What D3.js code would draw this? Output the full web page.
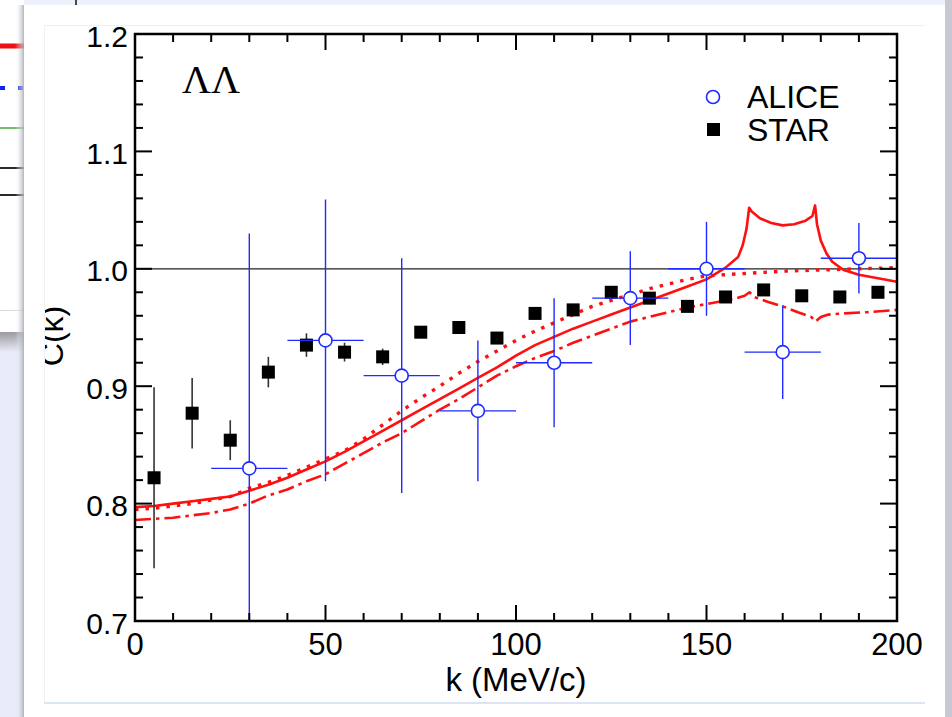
<!DOCTYPE html>
<html>
<head>
<meta charset="utf-8">
<script src="https://cdn.jsdelivr.net/npm/d3@7"></script>
<style>
    html, body { margin: 0; padding: 0; background: #eef0fa; }
    svg { display: block; font-family: "Liberation Sans", Arial, Helvetica, sans-serif; }
</style>
</head>
<body>
<svg id="chart" width="952" height="717"></svg>
<script>
// Données STAR (carrés noirs)
const starK = [5, 15, 25, 35, 45, 55, 65, 75, 85, 95, 105, 115, 125, 135, 145, 155, 165, 175, 185, 195];
const starC = [0.822, 0.877, 0.854, 0.912, 0.935, 0.929, 0.925, 0.946, 0.950, 0.941, 0.962, 0.965, 0.980, 0.975, 0.968, 0.976, 0.982, 0.977, 0.976, 0.980];
const starErr = [0.077, 0.030, 0.017, 0.013, 0.010, 0.008, 0.007, 0.005, 0.004, 0.004, 0.003, 0.003, 0.003, 0.003, 0.003, 0.003, 0.003, 0.003, 0.003, 0.003];

// Données ALICE (cercles bleus)
const aliceK = [30, 50, 70, 90, 110, 130, 150, 170, 190];
const aliceC = [0.830, 0.939, 0.909, 0.879, 0.920, 0.975, 1.000, 0.929, 1.009];
const aliceErr = [0.200, 0.120, 0.100, 0.060, 0.055, 0.040, 0.040, 0.040, 0.030];
const aliceKErr = 10;

// Courbes théoriques
const solidK = [0, 5, 10, 15, 20, 25, 30, 35, 40, 45, 50, 55, 60, 65, 70, 75, 80, 85, 90, 95, 100, 105, 110, 115, 120, 125, 130, 135, 140, 145, 150, 155, 158.3, 159.5, 160.5, 161.2, 161.8, 164, 167, 170, 173, 176, 177.8, 178.5, 179, 180, 181.5, 183, 186, 190, 195, 200];
const solidC = [0.797, 0.798, 0.800, 0.802, 0.804, 0.806, 0.811, 0.816, 0.822, 0.829, 0.836, 0.844, 0.853, 0.862, 0.871, 0.880, 0.889, 0.898, 0.907, 0.916, 0.926, 0.935, 0.942, 0.949, 0.955, 0.961, 0.967, 0.973, 0.979, 0.985, 0.991, 1.001, 1.010, 1.020, 1.034, 1.052, 1.049, 1.043, 1.039, 1.037, 1.038, 1.041, 1.045, 1.054, 1.038, 1.024, 1.013, 1.006, 0.999, 0.995, 0.992, 0.989];

const dottedK = [0, 5, 10, 15, 20, 25, 30, 35, 40, 45, 50, 55, 60, 65, 70, 75, 80, 85, 90, 95, 100, 105, 110, 115, 120, 125, 130, 135, 140, 145, 150, 155, 160, 165, 170, 180, 190, 200];
const dottedC = [0.795, 0.796, 0.798, 0.800, 0.803, 0.806, 0.813, 0.818, 0.824, 0.831, 0.838, 0.845, 0.855, 0.867, 0.879, 0.890, 0.900, 0.911, 0.921, 0.930, 0.939, 0.947, 0.954, 0.961, 0.968, 0.973, 0.978, 0.983, 0.987, 0.991, 0.994, 0.995, 0.996, 0.997, 0.998, 0.999, 1.000, 1.001];

const dashDotK = [0, 5, 10, 15, 20, 25, 30, 35, 40, 45, 50, 55, 60, 65, 70, 75, 80, 85, 90, 95, 100, 105, 110, 115, 120, 125, 130, 135, 140, 145, 150, 155, 158, 160, 161.3, 162.5, 166, 170, 174, 177.5, 178.6, 180, 182, 186, 192, 200];
const dashDotC = [0.786, 0.787, 0.788, 0.790, 0.792, 0.795, 0.800, 0.807, 0.812, 0.819, 0.825, 0.834, 0.843, 0.852, 0.860, 0.870, 0.880, 0.889, 0.899, 0.909, 0.917, 0.924, 0.930, 0.937, 0.943, 0.949, 0.955, 0.959, 0.963, 0.967, 0.970, 0.973, 0.975, 0.977, 0.980, 0.976, 0.972, 0.968, 0.963, 0.959, 0.955, 0.959, 0.961, 0.962, 0.963, 0.965];

// Axes
const xMajor = [0, 50, 100, 150, 200];
const yMajor = [0.7, 0.8, 0.9, 1.0, 1.1, 1.2];
const xLabel = "k (MeV/c)";
const yLabel = "C(k)";
const panelTitle = "ΛΛ";
const legendNames = ["ALICE", "STAR"];

const config = {
    plot: { left: 135, right: 897, top: 34, bottom: 621 },
    colors: {
        red: "#ff1010",
        blue: "#1f2bff",
        black: "#000000"
    }
};

const svg = d3.select("#chart");

drawBackground();
drawChart();

function drawBackground() {
    // fenêtre derrière, à gauche
    svg.append("rect").attr("x", 0).attr("y", 0).attr("width", 952).attr("height", 717).attr("fill", "#eef0fa");
    svg.append("rect").attr("x", 0).attr("y", 0).attr("width", 24).attr("height", 332).attr("fill", "#ffffff");
    svg.append("rect").attr("x", 0).attr("y", 332).attr("width", 24).attr("height", 385).attr("fill", "#e8ebf9");

    const defs = svg.append("defs");
    const band = defs.append("linearGradient").attr("id", "band").attr("x1", 0).attr("y1", 0).attr("x2", 0).attr("y2", 1);
    band.append("stop").attr("offset", 0).attr("stop-color", "#9a9a9e");
    band.append("stop").attr("offset", 1).attr("stop-color", "#e8ebf9");
    svg.append("rect").attr("x", 0).attr("y", 332).attr("width", 24).attr("height", 20).attr("fill", "url(#band)");
    svg.append("line").attr("x1", 0).attr("x2", 24).attr("y1", 310.5).attr("y2", 310.5).attr("stroke", "#dcdcdc");

    svg.append("line").attr("x1", 0).attr("x2", 24).attr("y1", 46).attr("y2", 46).attr("stroke", "#ee1111").attr("stroke-width", 5);
    svg.append("line").attr("x1", 0).attr("x2", 24).attr("y1", 88).attr("y2", 88).attr("stroke", "#1122ee").attr("stroke-width", 4).attr("stroke-dasharray", "5,13");
    svg.append("line").attr("x1", 0).attr("x2", 24).attr("y1", 128).attr("y2", 128).attr("stroke", "#229922").attr("stroke-width", 1.3);
    svg.append("line").attr("x1", 0).attr("x2", 24).attr("y1", 168).attr("y2", 168).attr("stroke", "#111").attr("stroke-width", 1.8);
    svg.append("line").attr("x1", 0).attr("x2", 24).attr("y1", 195).attr("y2", 195).attr("stroke", "#111").attr("stroke-width", 1.8);
    svg.append("line").attr("x1", 76).attr("x2", 76).attr("y1", 0).attr("y2", 5).attr("stroke", "#111").attr("stroke-width", 1.5);

    // ombre de la carte
    const shadow = defs.append("linearGradient").attr("id", "shadow");
    shadow.append("stop").attr("offset", 0).attr("stop-color", "#ffffff").attr("stop-opacity", 0);
    shadow.append("stop").attr("offset", 1).attr("stop-color", "#a8acb8").attr("stop-opacity", 0.9);
    svg.append("rect").attr("x", 15).attr("y", 5).attr("width", 9).attr("height", 712).attr("fill", "url(#shadow)");

    // carte blanche
    svg.append("rect").attr("x", 24).attr("y", 5).attr("width", 921).attr("height", 712).attr("fill", "#ffffff");
    svg.append("rect").attr("x", 945).attr("y", 0).attr("width", 7).attr("height", 717).attr("fill", "#c6c9d4");

    // cadre de l'image
    svg.append("line").attr("x1", 45).attr("x2", 925).attr("y1", 25.5).attr("y2", 25.5).attr("stroke", "#f0f0f0");
    svg.append("line").attr("x1", 44.5).attr("x2", 44.5).attr("y1", 25).attr("y2", 702).attr("stroke", "#f2f2f2");
    svg.append("line").attr("x1", 44).attr("x2", 925).attr("y1", 703).attr("y2", 703).attr("stroke", "#dde4f4").attr("stroke-width", 2);

    defs.append("clipPath").attr("id", "imgclip")
        .append("rect").attr("x", 45).attr("y", 26).attr("width", 880).attr("height", 676);
    defs.append("clipPath").attr("id", "plotclip")
        .append("rect").attr("x", config.plot.left).attr("y", config.plot.top)
        .attr("width", config.plot.right - config.plot.left).attr("height", config.plot.bottom - config.plot.top);
}

function drawChart() {
    const p = config.plot;
    const x = d3.scaleLinear().domain([0, 200]).range([p.left, p.right]);
    const y = d3.scaleLinear().domain([0.7, 1.2]).range([p.bottom, p.top]);

    const g = svg.append("g").attr("clip-path", "url(#imgclip)");
    const data = g.append("g").attr("clip-path", "url(#plotclip)");

    // ligne C = 1
    data.append("line")
        .attr("x1", x(0)).attr("x2", x(200))
        .attr("y1", y(1.0)).attr("y2", y(1.0))
        .attr("stroke", "#222").attr("stroke-width", 1.3);

    // courbes rouges
    const line = d3.line().x(d => x(d[0])).y(d => y(d[1]));
    const curves = [
        { k: solidK, c: solidC, dash: null, w: 2.6 },
        { k: dottedK, c: dottedC, dash: "3.5,7", w: 3.4 },
        { k: dashDotK, c: dashDotC, dash: "16,5,3.5,5", w: 2.6 }
    ];
    curves.forEach(cv => {
        data.append("path")
            .attr("d", line(cv.k.map((k, i) => [k, cv.c[i]])))
            .attr("fill", "none")
            .attr("stroke", config.colors.red)
            .attr("stroke-width", cv.w)
            .attr("stroke-dasharray", cv.dash)
            .attr("stroke-linejoin", "round");
    });

    // STAR
    const star = starK.map((k, i) => ({ k: k, c: starC[i], e: starErr[i] }));
    data.selectAll(".star-err").data(star).enter().append("line")
        .attr("x1", d => x(d.k)).attr("x2", d => x(d.k))
        .attr("y1", d => y(d.c - d.e)).attr("y2", d => y(d.c + d.e))
        .attr("stroke", "#333").attr("stroke-width", 1.6);
    data.selectAll(".star-pt").data(star).enter().append("rect")
        .attr("x", d => x(d.k) - 6.5).attr("y", d => y(d.c) - 6.5)
        .attr("width", 13).attr("height", 13)
        .attr("fill", config.colors.black);

    // ALICE
    const alice = aliceK.map((k, i) => ({ k: k, c: aliceC[i], e: aliceErr[i] }));
    data.selectAll(".alice-ey").data(alice).enter().append("line")
        .attr("x1", d => x(d.k)).attr("x2", d => x(d.k))
        .attr("y1", d => y(d.c - d.e)).attr("y2", d => y(d.c + d.e))
        .attr("stroke", config.colors.blue).attr("stroke-width", 1.4);
    data.selectAll(".alice-ex").data(alice).enter().append("line")
        .attr("x1", d => x(d.k - aliceKErr)).attr("x2", d => x(d.k + aliceKErr))
        .attr("y1", d => y(d.c)).attr("y2", d => y(d.c))
        .attr("stroke", config.colors.blue).attr("stroke-width", 1.4);
    data.selectAll(".alice-pt").data(alice).enter().append("circle")
        .attr("cx", d => x(d.k)).attr("cy", d => y(d.c)).attr("r", 6.5)
        .attr("fill", "#fff").attr("stroke", config.colors.blue).attr("stroke-width", 1.6);

    // cadre + graduations
    const axes = g.append("g").attr("stroke", "#000");
    axes.append("rect")
        .attr("x", p.left).attr("y", p.top)
        .attr("width", p.right - p.left).attr("height", p.bottom - p.top)
        .attr("fill", "none").attr("stroke-width", 2.5);

    const xTicks = d3.range(0, 201, 10);
    xTicks.forEach(k => {
        const len = k % 50 === 0 ? 16 : 8;
        axes.append("line").attr("x1", x(k)).attr("x2", x(k)).attr("y1", p.bottom).attr("y2", p.bottom - len).attr("stroke-width", 2);
        axes.append("line").attr("x1", x(k)).attr("x2", x(k)).attr("y1", p.top).attr("y2", p.top + len).attr("stroke-width", 2);
    });
    const yTicks = d3.range(0, 26).map(i => 0.7 + i * 0.02);
    yTicks.forEach((c, i) => {
        const len = i % 5 === 0 ? 17 : 8;
        axes.append("line").attr("x1", p.left).attr("x2", p.left + len).attr("y1", y(c)).attr("y2", y(c)).attr("stroke-width", 2);
        axes.append("line").attr("x1", p.right).attr("x2", p.right - len).attr("y1", y(c)).attr("y2", y(c)).attr("stroke-width", 2);
    });

    // étiquettes
    g.selectAll(".xlab").data(xMajor).enter().append("text")
        .attr("x", d => x(d)).attr("y", 655)
        .attr("text-anchor", "middle").attr("font-size", 31)
        .text(d => d);
    g.selectAll(".ylab").data(yMajor).enter().append("text")
        .attr("x", 128).attr("y", d => y(d) + 12.5)
        .attr("text-anchor", "end").attr("font-size", 30)
        .text(d => d3.format(".1f")(d));

    g.append("text")
        .attr("x", x(100)).attr("y", 691)
        .attr("text-anchor", "middle").attr("font-size", 33)
        .text(xLabel);
    g.append("text")
        .attr("transform", "translate(63,336) rotate(-90)")
        .attr("text-anchor", "middle").attr("font-size", 32)
        .text(yLabel);

    g.append("text")
        .attr("x", 182).attr("y", 93)
        .style("font-family", "'Liberation Serif', 'Times New Roman', 'DejaVu Serif', serif")
        .attr("font-size", 40)
        .text(panelTitle);

    // légende
    g.append("circle").attr("cx", 713).attr("cy", 97).attr("r", 6.5)
        .attr("fill", "#fff").attr("stroke", config.colors.blue).attr("stroke-width", 1.6);
    g.append("rect").attr("x", 707).attr("y", 123).attr("width", 13).attr("height", 13).attr("fill", "#000");
    g.selectAll(".leg").data(legendNames).enter().append("text")
        .attr("x", 747).attr("y", (d, i) => 108 + i * 33)
        .attr("font-size", 32)
        .text(d => d);
}
</script>
</body>
</html>
